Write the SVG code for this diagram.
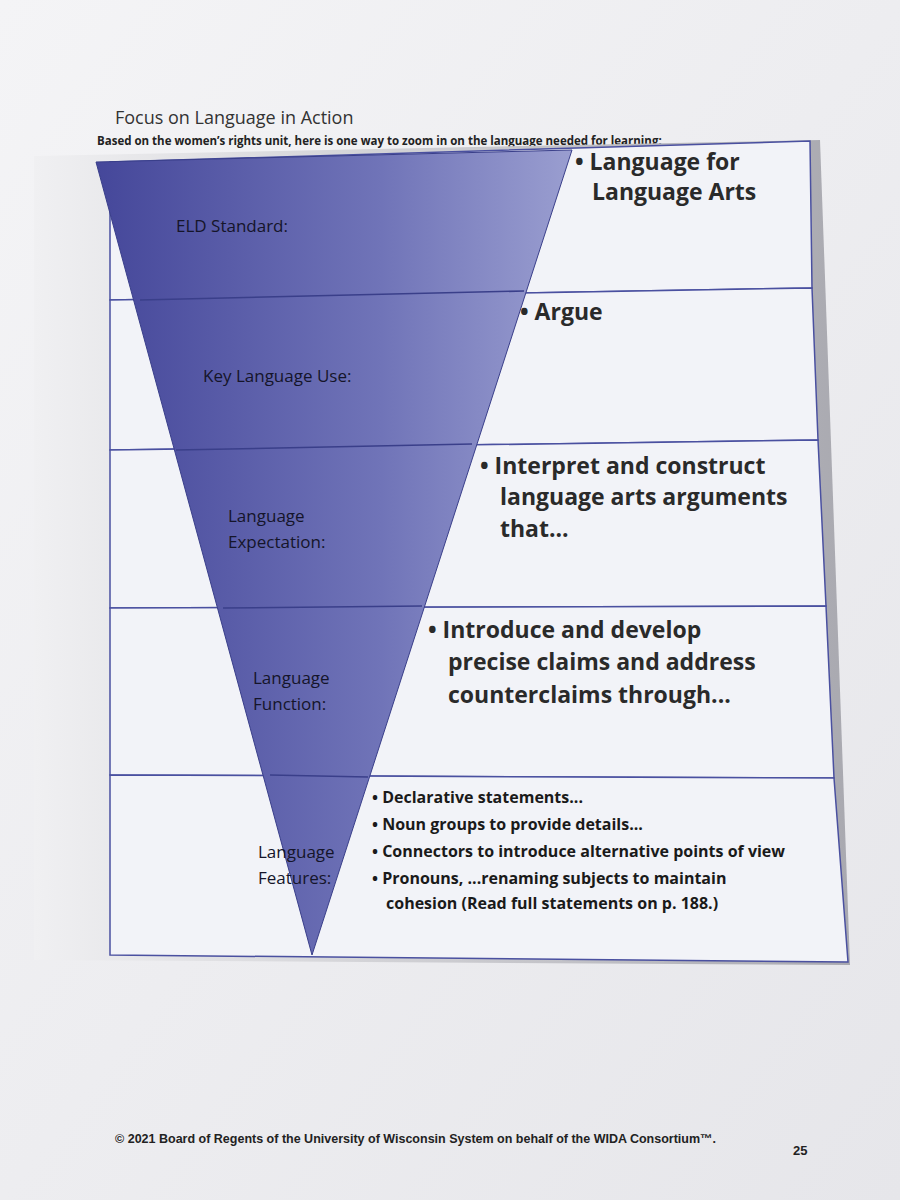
<svg xmlns="http://www.w3.org/2000/svg" width="900" height="1200" viewBox="0 0 900 1200">
<defs>
<linearGradient id="page" x1="0" y1="0" x2="1" y2="1"><stop offset="0" stop-color="#f4f4f6"/><stop offset="1" stop-color="#e6e6ea"/></linearGradient>
<linearGradient id="bg" x1="0" y1="0" x2="1" y2="0"><stop offset="0" stop-color="#f0f0f2"/><stop offset="1" stop-color="#a9a9b0"/></linearGradient>
<linearGradient id="tri" x1="0" y1="0" x2="1" y2="0"><stop offset="0" stop-color="#45479a"/><stop offset="0.6" stop-color="#7074b8"/><stop offset="1" stop-color="#9a9ed0"/></linearGradient>
<style>
.l{font-family:"Open Sans","Liberation Sans",sans-serif;fill:#15152a;font-size:17px}
.b{font-family:"Open Sans","Liberation Sans",sans-serif;fill:#2a2a2a;font-weight:bold;font-size:23px}
.s{font-family:"Open Sans","Liberation Sans",sans-serif;fill:#1a1a1a;font-weight:bold;font-size:16px}
.box{fill:#f2f3f8;stroke:#4a50a0;stroke-width:1.5}
</style>
</defs>
<rect width="900" height="1200" fill="url(#page)"/>
<text x="115" y="124" font-family="Open Sans,Liberation Sans,sans-serif" font-size="18" fill="#333">Focus on Language in Action</text>
<text x="97" y="145" font-family="Open Sans,Liberation Sans,sans-serif" font-size="11.5" font-weight="bold" fill="#222">Based on the women’s rights unit, here is one way to zoom in on the language needed for learning:</text>
<polygon points="34,156 820,140 850,965 34,960" fill="url(#bg)"/>
<g id="boxes">
<polygon class="box" points="110,162 810,141 812,288 110,300"/>
<polygon class="box" points="110,300 812,288 818,440 110,450"/>
<polygon class="box" points="110,450 818,440 826,606 110,608"/>
<polygon class="box" points="110,608 826,606 834,778 110,775"/>
<polygon class="box" points="110,775 834,778 848,962 110,955"/>
</g>
<g id="triangle">
<polygon points="96,162 572,150 312,955" fill="url(#tri)" stroke="#3a3f8a" stroke-width="1"/>
<g stroke="#3a3f8a" stroke-width="1.5"><line x1="140" y1="300" x2="524" y2="291"/><line x1="176" y1="450" x2="472" y2="444"/><line x1="223" y1="608" x2="422" y2="606"/><line x1="270" y1="775" x2="368" y2="777"/></g>
</g>
<g id="labels">
<text class="l" x="176" y="232">ELD Standard:</text>
<text class="l" x="203" y="382">Key Language Use:</text>
<text class="l" x="228" y="522">Language</text><text class="l" x="228" y="548">Expectation:</text>
<text class="l" x="253" y="684">Language</text><text class="l" x="253" y="710">Function:</text>
<text class="l" x="258" y="858">Language</text><text class="l" x="258" y="884">Features:</text>
</g>
<g id="content">
<text class="b" x="575" y="170">• Language for</text><text class="b" x="592" y="200">Language Arts</text>
<text class="b" x="520" y="320">• Argue</text>
<text class="b" x="480" y="474">•  Interpret and construct</text><text class="b" x="500" y="505">language arts arguments</text><text class="b" x="500" y="537">that...</text>
<text class="b" x="428" y="638">• Introduce and develop</text><text class="b" x="448" y="670">precise claims and address</text><text class="b" x="448" y="703">counterclaims through...</text>
<text class="s" x="372" y="803">• Declarative statements...</text>
<text class="s" x="372" y="830">• Noun groups to provide details...</text>
<text class="s" x="372" y="857">• Connectors to introduce alternative points of view</text>
<text class="s" x="372" y="884">• Pronouns, ...renaming subjects to maintain</text>
<text class="s" x="386" y="909">cohesion (Read full statements on p. 188.)</text>
</g>
<text x="115" y="1143" font-family="Liberation Sans,sans-serif" font-size="12.5" font-weight="bold" fill="#222">© 2021 Board of Regents of the University of Wisconsin System on behalf of the WIDA Consortium™.</text>
<text x="793" y="1155" font-family="Liberation Sans,sans-serif" font-size="13" font-weight="bold" fill="#222">25</text>
</svg>
